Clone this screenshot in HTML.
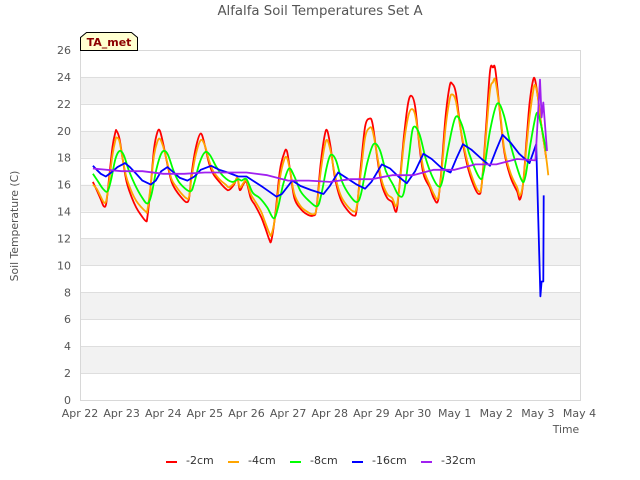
<!DOCTYPE html>
<html>
<head>
<meta charset="utf-8">
<title>Alfalfa Soil Temperatures Set A</title>
<style>
html,body{margin:0;padding:0;background:#fff;}
svg{display:block;font-family:"DejaVu Sans",sans-serif;}
</style>
</head>
<body>
<svg id="chart" width="640" height="480" viewBox="0 0 640 480" xmlns="http://www.w3.org/2000/svg">
<rect x="0" y="0" width="640" height="480" fill="#fff"/>
<text x="320" y="15" text-anchor="middle" font-size="13.3" fill="#555">Alfalfa Soil Temperatures Set A</text>
<g id="bands"></g>
<g id="grid"></g>
<rect x="80.5" y="50.5" width="500" height="350" fill="none" stroke="#d8d8d8" stroke-width="1"/>
<g id="ylabels"></g>
<g id="xlabels"></g>
<g id="series"></g>
<text transform="translate(18,226) rotate(-90)" text-anchor="middle" font-size="10.8" fill="#555">Soil Temperature (C)</text>
<text x="566" y="433" text-anchor="middle" font-size="10.8" fill="#555">Time</text>
<g>
<polygon points="80.5,50.5 80.5,37.5 86.5,32.5 131.5,32.5 137.5,37.5 137.5,50.5" fill="#ffffd0" stroke="#000" stroke-width="1"/>
<text x="109" y="46" text-anchor="middle" font-size="11" font-weight="bold" fill="#8b0000">TA_met</text>
</g>
<g id="legend"></g>
</svg>
<script>
const xTickLabels = ["Apr 22","Apr 23","Apr 24","Apr 25","Apr 26","Apr 27","Apr 28","Apr 29","Apr 30","May 1","May 2","May 3","May 4"];
const yTickLabels = [0,2,4,6,8,10,12,14,16,18,20,22,24,26];

const daysA = [0.31,0.4,0.5,0.57,0.63,0.7,0.78,0.85,0.88,0.95,1.03,1.12,1.25,1.35,1.45,1.58,1.62,1.7,1.78,1.86,1.92,2.0,2.1,2.2,2.3,2.42,2.55,2.62,2.68,2.78,2.9,3.0,3.1,3.2,3.35,3.5,3.58,3.7,3.78,3.84,3.92,4.0,4.1,4.2,4.35,4.45,4.55,4.6,4.7,4.8,4.9,4.97,5.05,5.15,5.3,5.45,5.6,5.68,5.78,5.88,5.94,6.02,6.12,6.25,6.4,6.58,6.65,6.75,6.85,6.95,7.03,7.15,7.25,7.38,7.5,7.6,7.67,7.78,7.88,7.96,8.05,8.15,8.25,8.4,8.5,8.6,8.68,8.78,8.88,8.94,9.03,9.15,9.3,9.45,9.58,9.65,9.75,9.85,9.92,9.98,10.1,10.2,10.35,10.5,10.57,10.65,10.72,10.8,10.88,10.93,11.0,11.08,11.2];
const cm2Values = [16.2,15.6,14.9,14.4,14.6,16.5,18.8,19.9,20.0,19.4,17.8,16.2,15.0,14.3,13.8,13.3,13.6,16.0,18.7,19.9,20.0,19.0,17.5,16.2,15.6,15.1,14.7,15.0,16.8,18.7,19.8,18.9,17.6,16.8,16.2,15.7,15.6,16.0,16.5,15.6,16.0,16.2,15.0,14.5,13.6,12.8,11.9,11.9,14.0,17.0,18.3,18.5,17.0,15.0,14.2,13.8,13.7,14.2,17.5,19.7,20.0,18.8,16.6,15.0,14.2,13.7,14.2,17.5,20.3,20.9,20.5,17.8,16.0,15.0,14.7,14.0,15.8,19.5,22.0,22.6,21.8,19.0,16.8,15.8,15.0,14.8,17.0,21.0,23.3,23.5,22.8,20.0,17.5,16.0,15.3,16.0,20.0,24.4,24.7,24.5,21.0,18.3,16.5,15.5,14.9,16.2,19.0,22.0,23.7,23.8,22.5,20.5,18.0];

const daysB = [0.31,0.4,0.5,0.57,0.63,0.7,0.78,0.85,0.88,0.95,1.03,1.12,1.25,1.35,1.45,1.58,1.62,1.7,1.78,1.86,1.92,2.0,2.1,2.2,2.3,2.42,2.55,2.62,2.68,2.78,2.9,3.0,3.1,3.2,3.35,3.5,3.58,3.7,3.78,3.84,3.92,4.0,4.1,4.2,4.35,4.45,4.55,4.6,4.7,4.8,4.9,4.97,5.05,5.15,5.3,5.45,5.6,5.68,5.78,5.88,5.94,6.02,6.12,6.25,6.4,6.58,6.65,6.75,6.85,6.95,7.03,7.15,7.25,7.38,7.5,7.6,7.67,7.78,7.88,7.96,8.05,8.15,8.25,8.4,8.5,8.6,8.68,8.78,8.88,8.94,9.03,9.15,9.3,9.45,9.58,9.65,9.75,9.85,9.92,9.98,10.1,10.2,10.35,10.5,10.57,10.65,10.72,10.8,10.88,10.93,11.0,11.08,11.2,11.25];
const cm4Values = [16.0,15.7,15.1,14.7,14.8,16.2,18.2,19.3,19.5,19.2,17.8,16.5,15.4,14.8,14.4,14.0,14.1,16.0,18.2,19.2,19.4,18.8,17.6,16.4,15.9,15.4,15.0,15.1,16.5,18.2,19.3,18.9,17.8,17.0,16.4,16.0,15.8,16.1,16.5,15.8,16.1,16.3,15.3,14.8,14.0,13.2,12.4,12.3,13.8,16.4,17.8,18.0,17.0,15.3,14.4,14.0,13.8,14.2,16.9,18.9,19.3,18.5,16.8,15.3,14.5,14.0,14.4,17.0,19.5,20.2,20.0,18.0,16.3,15.3,15.0,14.4,15.7,19.0,21.0,21.6,21.2,19.2,17.2,16.0,15.3,15.0,16.7,20.2,22.3,22.7,22.2,20.0,17.8,16.3,15.5,16.0,19.5,23.0,23.6,23.7,21.2,18.5,16.8,15.8,15.2,16.2,18.6,21.0,22.8,23.4,22.5,20.5,18.0,16.7];

const daysC = [0.31,0.42,0.55,0.66,0.75,0.85,0.95,1.05,1.18,1.32,1.48,1.62,1.72,1.84,1.97,2.1,2.25,2.4,2.65,2.75,2.87,3.0,3.12,3.28,3.45,3.65,3.8,3.88,4.0,4.15,4.32,4.5,4.65,4.75,4.88,5.02,5.15,5.3,5.5,5.7,5.8,5.92,6.02,6.15,6.3,6.48,6.65,6.75,6.9,7.05,7.2,7.35,7.52,7.66,7.78,7.9,8.0,8.15,8.3,8.45,8.6,8.7,8.85,9.02,9.18,9.35,9.6,9.7,9.85,10.02,10.18,10.35,10.6,10.7,10.82,10.97,11.07,11.2];
const cm8Values = [16.8,16.3,15.7,15.5,16.4,17.9,18.5,18.2,17.0,16.0,15.1,14.6,15.3,17.2,18.4,18.3,17.0,16.1,15.5,16.2,17.6,18.4,18.2,17.3,16.6,16.2,16.4,16.3,16.4,15.4,15.0,14.3,13.5,14.2,16.0,17.2,16.6,15.5,14.8,14.4,15.3,17.2,18.2,17.8,16.2,15.2,14.7,15.3,17.6,19.0,18.6,17.0,16.0,15.2,15.4,18.0,20.2,19.8,18.0,16.7,15.9,16.2,18.8,21.0,20.4,18.3,16.5,17.0,20.0,22.0,21.2,18.9,16.4,16.6,19.0,21.3,20.5,18.5];

const daysD = [0.31,0.4,0.5,0.62,0.75,0.9,1.08,1.2,1.35,1.5,1.7,1.82,1.95,2.1,2.25,2.4,2.58,2.75,2.9,3.15,3.35,3.55,3.8,4.0,4.2,4.4,4.72,4.85,5.1,5.3,5.55,5.85,6.0,6.2,6.4,6.65,6.85,7.0,7.25,7.45,7.65,7.85,8.05,8.25,8.45,8.7,8.9,9.05,9.2,9.4,9.65,9.85,10.0,10.15,10.35,10.55,10.8,10.96,11.06,11.09,11.13,11.14];
const cm16Values = [17.4,17.1,16.8,16.6,16.9,17.3,17.6,17.3,16.8,16.3,16.0,16.3,17.0,17.3,16.9,16.5,16.3,16.6,17.1,17.4,17.1,16.9,16.6,16.6,16.2,15.8,15.1,15.3,16.3,15.9,15.6,15.3,15.9,16.9,16.5,16.0,15.7,16.2,17.5,17.2,16.6,16.1,17.0,18.3,17.9,17.2,16.9,18.0,19.0,18.6,17.9,17.4,18.6,19.7,19.1,18.3,17.6,19.0,7.7,8.8,8.8,15.2];

const daysE = [0.31,1.0,1.5,2.0,2.5,3.0,3.5,4.0,4.5,5.0,5.5,6.0,6.5,7.0,7.5,8.0,8.5,9.0,9.5,10.0,10.5,10.94,11.05,11.09,11.13,11.22];
const cm32Values = [17.2,17.0,17.0,16.8,16.8,16.9,16.9,16.9,16.7,16.3,16.3,16.2,16.4,16.4,16.7,16.7,17.1,17.1,17.5,17.5,17.9,17.8,23.8,21.0,22.1,18.5];

const svgNS = "http://www.w3.org/2000/svg";
const xScale = d => 80 + d * (499.5 / 12);
const yScale = v => 400 - v * (350 / 26);

function mk(tag, attrs, parent) {
  const el = document.createElementNS(svgNS, tag);
  for (const k in attrs) el.setAttribute(k, attrs[k]);
  parent.appendChild(el);
  return el;
}

const bands = document.getElementById('bands');
for (let v = 2; v < 26; v += 4) {
  const band = mk('rect', {x: 80, y: yScale(v + 2), width: 500, height: yScale(v) - yScale(v + 2), fill: '#f2f2f2'}, bands);
  
  
}

const grid = document.getElementById('grid');
const ylabels = document.getElementById('ylabels');
yTickLabels.forEach(v => {
  const y = Math.round(yScale(v)) + 0.5;
  const line = mk('line', {x1: 80, x2: 580, y1: y, y2: y, stroke: '#dedede', 'stroke-width': 1}, grid);
  
  
  const t = mk('text', {x: 71, y: yScale(v) + 4, 'text-anchor': 'end', 'font-size': 11, fill: '#555'}, ylabels);
  
  
  t.textContent = v;
});

const xlabels = document.getElementById('xlabels');
xTickLabels.forEach((label, i) => {
  const t = mk('text', {x: xScale(i), y: 417, 'text-anchor': 'middle', 'font-size': 11, fill: '#555'}, xlabels);
  
  
  t.textContent = label;
});

const seriesLayer = document.getElementById('series');
function smoothPath(pts) {
  let d = 'M' + pts[0][0].toFixed(1) + ' ' + pts[0][1].toFixed(1);
  for (let i = 0; i < pts.length - 1; i++) {
    const p0 = pts[Math.max(i - 1, 0)], p1 = pts[i], p2 = pts[i + 1], p3 = pts[Math.min(i + 2, pts.length - 1)];
    const c1x = p1[0] + (p2[0] - p0[0]) / 6, c1y = p1[1] + (p2[1] - p0[1]) / 6;
    const c2x = p2[0] - (p3[0] - p1[0]) / 6, c2y = p2[1] - (p3[1] - p1[1]) / 6;
    d += 'C' + c1x.toFixed(1) + ' ' + c1y.toFixed(1) + ' ' + c2x.toFixed(1) + ' ' + c2y.toFixed(1) + ' ' + p2[0].toFixed(1) + ' ' + p2[1].toFixed(1);
  }
  return d;
}
function linearPath(pts) {
  return pts.map((p, i) => (i ? 'L' : 'M') + p[0].toFixed(1) + ' ' + p[1].toFixed(1)).join('');
}
function drawSeries(name, days, values, color, smooth) {
  const pts = days.map((day, i) => [xScale(day), yScale(values[i])]);
  const p = mk('path', {d: smooth ? smoothPath(pts) : linearPath(pts), fill: 'none', stroke: color, 'stroke-width': 1.8, 'stroke-linejoin': 'round'}, seriesLayer);
  
  
}
drawSeries('series-2cm', daysA, cm2Values, '#ff0000', true);
drawSeries('series-4cm', daysB, cm4Values, '#ffa500', true);
drawSeries('series-8cm', daysC, cm8Values, '#00ff00', true);
drawSeries('series-16cm', daysD, cm16Values, '#0000ff', false);
drawSeries('series-32cm', daysE, cm32Values, '#a020f0', false);

const legendNames = ['-2cm', '-4cm', '-8cm', '-16cm', '-32cm'];
const legendColors = ['#ff0000', '#ffa500', '#00ff00', '#0000ff', '#a020f0'];
const legendX = [166, 228, 290, 352, 421];
const legend = document.getElementById('legend');
legendNames.forEach((name, i) => {
  const line = mk('rect', {x: legendX[i], y: 461, width: 11, height: 2, fill: legendColors[i]}, legend);
  
  
  const t = mk('text', {x: legendX[i] + 20, y: 464, 'font-size': 11, fill: '#333'}, legend);
  
  
  t.textContent = name;
});
</script>
</body>
</html>
